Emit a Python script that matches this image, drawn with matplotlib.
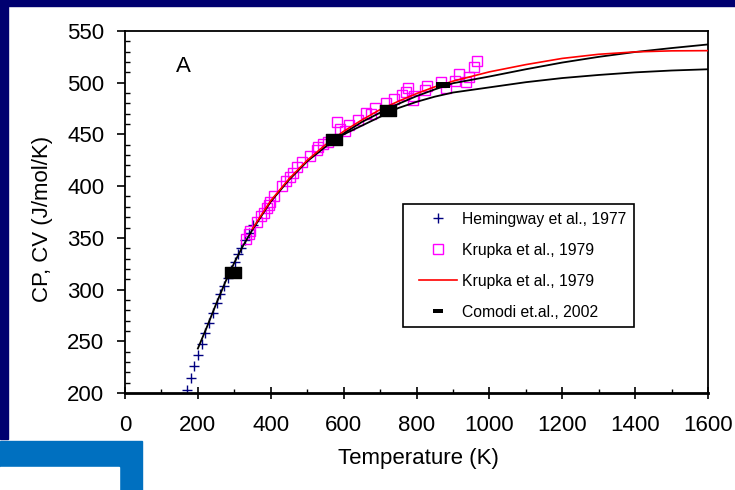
import matplotlib
matplotlib.use('Agg')
import matplotlib.pyplot as plt
from matplotlib.path import Path
from matplotlib.lines import Line2D
from matplotlib.legend_handler import HandlerLine2D
from matplotlib.patches import Rectangle
from matplotlib.ticker import MultipleLocator

plt.rcParams['font.family'] = ['Liberation Sans', 'DejaVu Sans']

# ---------------- data ----------------
hem_T = [170, 180, 190, 200, 210, 220, 230, 242, 252, 262, 272, 282, 291, 301, 310, 319, 330, 341, 352]
hem_cp = [202.6, 214.5, 226, 237, 247.7, 258, 267.7, 277, 286.7, 296, 303, 311.5, 319, 327, 334, 340.5, 348, 355, 362]

kru_T = [333, 341, 343, 361, 374, 382, 390, 395, 397, 408, 430, 442, 453, 462, 472, 487, 507, 526, 530,
         543, 558, 581, 590, 603, 616, 639, 661, 674, 687, 715, 738, 759, 770, 777, 790, 792, 822, 830,
         867, 880, 905, 918, 937, 944, 957, 967]
kru_cp = [349, 354, 357, 365, 371, 374, 378.5, 382, 385, 390, 400.5, 405, 409, 413, 418.5, 423.7, 429, 435, 438,
          440.5, 442.7, 462, 455.6, 453, 459, 463.6, 470.7, 470, 476, 480, 484.6, 488.5, 491, 495, 483, 487, 493, 496.5,
          500.7, 495, 502, 508, 500.7, 505.5, 515, 521]

fit_T = [350, 400, 450, 500, 550, 600, 650, 700, 750, 800, 850, 900, 1000, 1100, 1200, 1300, 1400, 1500, 1600]
fit_cp = [359, 386, 407, 425, 440, 453, 464, 474, 482, 489.5, 496, 501.5, 510.5, 517.5, 523.5, 527.5, 529.8, 530.8, 531]

cp_T = [200, 225, 250, 275, 300, 325, 350, 400, 450, 500, 550, 600, 650, 700, 750, 800, 850, 900, 1000,
        1100, 1200, 1300, 1400, 1500, 1600]
cp_val = [243, 264, 286, 307, 326, 343, 358, 385, 406, 424, 438, 451, 462, 471, 479.5, 487, 493.5, 499.5, 506,
          513, 519.5, 525, 529.7, 533.5, 537]

cv_T = [600, 650, 700, 750, 800, 850, 900, 1000, 1100, 1200, 1300, 1400, 1500, 1600]
cv_val = [450, 458.5, 467, 475.5, 481.5, 486.5, 490.5, 495.5, 500.5, 504.5, 507.5, 510, 511.8, 513]

com_T = [297, 573, 721]
com_cp = [317, 446, 474]
com_dash_T = [873]
com_dash_cp = [497.5]

navy = '#000070'
# ---------------- figure ----------------
fig = plt.figure(figsize=(7.35, 4.9), dpi=100, facecolor='white')
W, H = 735.0, 490.0
fig.patches.append(Rectangle((0, 1 - 6 / H), 1, 6 / H, transform=fig.transFigure, color=navy, zorder=0))
fig.patches.append(Rectangle((0, 51 / H), 8 / W, 1 - 51 / H, transform=fig.transFigure, color=navy, zorder=0))
fig.patches.append(Rectangle((0, 0), 142 / W, 49 / H, transform=fig.transFigure, color='#0070C0', zorder=0))
fig.patches.append(Rectangle((0, 0), 119 / W, 23 / H, transform=fig.transFigure, color='white', zorder=1))

ax = fig.add_axes([125 / W, 97 / H, 583 / W, 362 / H])
ax.set_xlim(0, 1600)
ax.set_ylim(200, 550)

rect = Path([(-1, -0.72), (1, -0.72), (1, 0.72), (-1, 0.72), (-1, -0.72)],
            [Path.MOVETO, Path.LINETO, Path.LINETO, Path.LINETO, Path.CLOSEPOLY])
dash = Path([(-1, -0.4), (1, -0.4), (1, 0.4), (-1, 0.4), (-1, -0.4)],
            [Path.MOVETO, Path.LINETO, Path.LINETO, Path.LINETO, Path.CLOSEPOLY])

h1, = ax.plot(hem_T, hem_cp, ls='none', marker='+', ms=7.5, mew=1.0, color='#000080',
              label='Hemingway et al., 1977', zorder=2)
h2, = ax.plot(kru_T, kru_cp, ls='none', marker='s', ms=7, mew=1.0, mfc='none', mec='#FF00FF',
              label='Krupka et al., 1979', zorder=3)
ax.plot(cp_T, cp_val, color='black', lw=1.3, zorder=4)
ax.plot(cv_T, cv_val, color='black', lw=1.3, zorder=4)
h3, = ax.plot(fit_T, fit_cp, color='#FF0000', lw=1.2, label='Krupka et al., 1979', zorder=5)
ax.plot(com_T, com_cp, ls='none', marker=rect, ms=11, color='black', zorder=6)
ax.plot(com_dash_T, com_dash_cp, ls='none', marker=dash, ms=10, mew=0, color='black', zorder=6)
h4 = Line2D([], [], ls='none', marker=dash, ms=7.2, mew=0, color='black', label='Comodi et.al., 2002')

ax.text(159, 516, 'A', fontsize=16, ha='center', va='center')

# ticks
ax.xaxis.set_major_locator(MultipleLocator(200))
ax.xaxis.set_minor_locator(MultipleLocator(100))
ax.yaxis.set_major_locator(MultipleLocator(50))
ax.yaxis.set_minor_locator(MultipleLocator(10))
ax.tick_params(axis='x', which='major', direction='inout', length=9, width=1.2, pad=11, labelsize=16)
ax.tick_params(axis='x', which='minor', direction='in', length=3, width=1.0)
ax.tick_params(axis='y', which='major', direction='out', length=6, width=1.2, pad=9, labelsize=16)
ax.tick_params(axis='y', which='minor', direction='in', length=3.6, width=1.0)

for s in ['top', 'right', 'left']:
    ax.spines[s].set_linewidth(1.3)
ax.spines['bottom'].set_linewidth(2.0)

ax.set_xlabel('Temperature (K)', fontsize=16)
ax.set_ylabel('CP, CV (J/mol/K)', fontsize=16)
ax.xaxis.label.set_va('center')
ax.yaxis.label.set_va('center')
ax.xaxis.set_label_coords(0.5026, -0.18)
ax.yaxis.set_label_coords(-0.142, 0.48)

xp = 0.54
hm = {h1: HandlerLine2D(xpad=xp), h2: HandlerLine2D(xpad=xp),
      h3: HandlerLine2D(xpad=xp), h4: HandlerLine2D(xpad=xp)}
leg = ax.legend(handles=[h1, h2, h3, h4], loc='upper left', bbox_to_anchor=(0.477, 0.522),
                borderaxespad=0, fontsize=11.3, numpoints=1, handlelength=2.96, handletextpad=0.32,
                borderpad=0.48, labelspacing=1.02, fancybox=False, framealpha=1,
                edgecolor='black', handler_map=hm)
leg.get_frame().set_linewidth(1.2)
leg.set_zorder(10)

fig.savefig('out.png', dpi=100, facecolor=fig.get_facecolor())
